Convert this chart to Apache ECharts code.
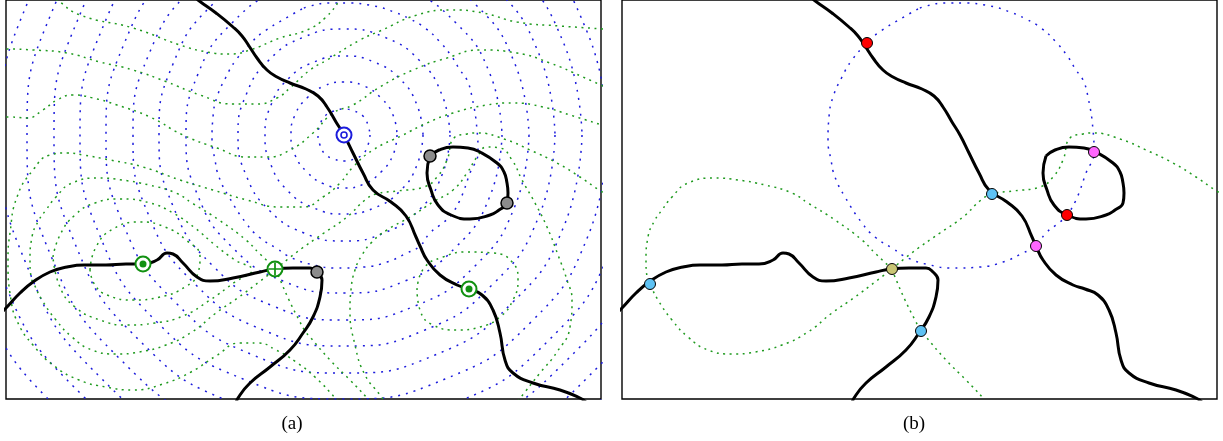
<!DOCTYPE html>
<html><head><meta charset="utf-8">
<script src="https://cdn.jsdelivr.net/npm/echarts@6/dist/echarts.min.js"></script>
<style>html,body{margin:0;padding:0;background:#fff}#c{width:1223px;height:441px}</style>
</head><body><div id="c"></div>
<script>
// ---- black curves (panel-local coords: x 0..595, y 0..399 from top) ----
const curveMain = [[188,-4],[192,0],[210,13],[227,27],[236,36],[243,46],[251,58],[261,70],[271,77],[284,83],[300,89],[312,96],[321,107],[330,122],[338,135],[347,153],[357,173],[367,190],[385,202],[400,216],[410,237],[414,246],[421,260],[434,275],[451,285],[463,289],[476,295],[487,310],[494,333],[499,360],[507,373],[527,383],[554,390],[574,398],[580,402]];
const curveLoop = [[424,156],[433,150],[447,147],[462,148],[474,152],[491,163],[498,172],[501,183],[502,193],[501,203],[493,210],[484,215],[464,219],[445,215],[432,205],[425,190],[421,173],[424,156]];
const curveLeft = [[-4,312],[0,308],[14,293],[27,282],[44,272],[61,267],[78,265],[100,265],[120,264],[137,264],[151,260],[161,253],[167,254],[177,263],[191,277],[204,281],[227,278],[254,272],[269,269],[287,268],[304,268],[311,272],[316,280],[314,297],[307,317],[297,333],[284,350],[264,367],[244,383],[232,398],[230,404]];

// ---- blue dotted level curves ----
const ring1 = [[364,135],[362,145],[357,154],[348,159],[338,161],[328,159],[319,154],[314,145],[312,135],[314,125],[319,116],[328,111],[338,109],[348,111],[357,116],[362,125],[364,135]];
const ring2 = [[391,135],[387,155],[375,172],[358,184],[338,188],[318,184],[301,172],[289,155],[285,135],[289,115],[301,98],[318,86],[338,82],[358,86],[375,98],[387,115],[391,135]];
const ring3 = [[417,135],[411,165],[394,191],[368,208],[338,214],[308,208],[282,191],[265,165],[259,135],[265,105],[282,79],[308,62],[338,56],[368,62],[394,79],[411,105],[417,135]];
const ring4 = [[444,135],[436,175],[413,210],[378,233],[338,241],[298,233],[263,210],[240,175],[232,135],[240,95],[263,60],[298,37],[338,29],[378,37],[413,60],[436,95],[444,135]];
const ring5 = [[296,9],[280,18],[256,33],[245,43],[230,60],[220,77],[211,97],[207,117],[206,140],[209,160],[213,177],[223,197],[240,223],[253,237],[270,248],[286,258],[308,265],[331,268],[358,267],[381,262],[401,253],[414,246],[424,233],[438,222],[445,215],[454,200],[464,173],[472,152],[471,130],[466,97],[461,80],[454,70],[446,57],[434,42],[419,28],[404,19],[388,12],[368,6],[341,3],[324,3],[304,6],[296,9]];
const ring6 = [[496,135],[484,196],[450,247],[399,281],[338,293],[277,281],[226,247],[192,196],[180,135],[192,74],[226,23],[277,-11],[338,-23],[399,-11],[450,23],[484,74],[496,135]];
const ring7 = [[523,135],[509,206],[469,266],[409,306],[338,320],[267,306],[207,266],[167,206],[153,135],[167,64],[207,4],[267,-36],[338,-50],[409,-36],[469,4],[509,64],[523,135]];
const ring8 = [[549,135],[533,216],[487,284],[419,330],[338,346],[257,330],[189,284],[143,216],[127,135],[143,54],[189,-14],[257,-60],[338,-76],[419,-60],[487,-14],[533,54],[549,135]];
const ring9 = [[576,135],[558,226],[506,303],[429,355],[338,373],[247,355],[170,303],[118,226],[100,135],[118,44],[170,-33],[247,-85],[338,-103],[429,-85],[506,-33],[558,44],[576,135]];
const ring10 = [[602,135],[582,236],[525,322],[439,379],[338,399],[237,379],[151,322],[94,236],[74,135],[94,34],[151,-52],[237,-109],[338,-129],[439,-109],[525,-52],[582,34],[602,135]];
const ring11 = [[628,135],[606,246],[543,340],[449,403],[338,425],[227,403],[133,340],[70,246],[48,135],[70,24],[133,-70],[227,-133],[338,-155],[449,-133],[543,-70],[606,24],[628,135]];
const ring12 = [[655,135],[631,256],[562,359],[459,428],[338,452],[217,428],[114,359],[45,256],[21,135],[45,14],[114,-89],[217,-158],[338,-182],[459,-158],[562,-89],[631,14],[655,135]];
const ring13 = [[681,135],[655,266],[581,378],[469,452],[338,478],[207,452],[95,378],[21,266],[-5,135],[21,4],[95,-108],[207,-182],[338,-208],[469,-182],[581,-108],[655,4],[681,135]];
const ring14 = [[708,135],[680,277],[599,396],[480,477],[338,505],[196,477],[77,396],[-4,277],[-32,135],[-4,-7],[77,-126],[196,-207],[338,-235],[480,-207],[599,-126],[680,-7],[708,135]];
const ring15 = [[734,135],[704,287],[618,415],[490,501],[338,531],[186,501],[58,415],[-28,287],[-58,135],[-28,-17],[58,-145],[186,-231],[338,-261],[490,-231],[618,-145],[704,-17],[734,135]];

// ---- green dotted level curves ----
const gl1 = [[39,-8],[51,0],[74,15],[127,28],[174,45],[201,52],[224,54],[244,50],[274,38],[301,30],[319,18],[334,0],[339,-8]];
const gl2 = [[-6,49],[2,49],[27,50],[61,53],[94,62],[127,70],[161,82],[194,95],[227,104],[251,104],[271,98],[284,88],[304,70],[321,60],[354,40],[374,31],[411,15],[444,10],[477,13],[511,22],[554,26],[599,29]];
const gl3 = [[-6,117],[4,117],[21,118],[37,110],[51,100],[67,95],[87,98],[111,105],[144,117],[177,135],[211,148],[241,157],[261,157],[284,150],[307,133],[327,113],[347,105],[374,87],[407,70],[441,58],[474,50],[511,53],[544,63],[577,77],[599,87]];
const gl4 = [[599,126],[564,115],[537,107],[507,103],[481,105],[447,113],[421,123],[397,135],[367,150],[347,167],[334,183],[317,197],[297,207],[274,207],[241,200],[207,190],[174,180],[137,167],[104,160],[77,155],[61,153],[44,155],[27,170],[11,197],[4,233],[2,260],[5,300],[13,325],[27,345],[47,365],[73,380],[100,387],[127,390],[157,384],[185,372],[210,356],[234,343],[252,343],[270,350],[290,362],[310,378],[330,399],[339,410]];
const loopA = [[84,270],[90,247],[107,229],[134,222],[159,227],[180,240],[194,257],[192,273],[179,287],[154,297],[127,300],[101,295],[89,285],[84,270]];
const loopB = [[47,257],[54,235],[69,215],[89,203],[114,199],[144,203],[167,213],[189,228],[209,245],[229,260],[246,270],[229,282],[204,300],[177,316],[149,323],[121,325],[94,320],[69,307],[54,287],[47,257]];
const loopC = [[270,269],[254,254],[240,240],[213,220],[186,203],[170,193],[143,185],[116,180],[93,178],[66,183],[50,197],[40,210],[33,220],[26,237],[24,260],[25,277],[28,284],[36,300],[50,320],[66,337],[86,350],[110,354],[133,352],[160,345],[186,332],[210,313],[233,297],[253,282],[270,269]];
const lineE = [[270,269],[291,252],[318,233],[341,217],[359,200],[370,194],[391,191],[418,187],[431,177],[441,160],[448,138],[461,134],[471,133],[498,139],[524,150],[551,163],[574,177],[593,190],[600,194]];
const lineS = [[270,269],[273,277],[283,300],[293,320],[299,331],[304,337],[324,360],[344,380],[361,398],[366,405]];
const loopD1 = [[411,290],[418,268],[437,257],[461,252],[487,253],[507,263],[512,280],[507,300],[494,317],[474,327],[451,330],[427,325],[414,310],[411,290]];
const loopD2 = [[384,410],[374,395],[359,375],[349,345],[344,310],[345,290],[349,270],[356,255],[366,242],[381,230],[404,217],[427,202],[447,190],[461,173],[471,157],[481,147],[494,148],[506,160],[516,180],[529,203],[541,227],[552,255],[561,280],[566,300],[564,327],[551,352],[534,373],[519,392],[509,405]];

// ---- markers ----
const blueZero = [[338,135]];
const greenDots = [[137,264],[463,289]];
const greenSaddle = [[269,269]];
const grayPts = [[424,156],[501,203],[311,272]];
const redPts = [[245,43],[445,215]];
const magentaPts = [[472,152],[414,246]];
const skyPts = [[370,194],[28,284],[299,331]];
const olivePts = [[270,269]];
const panelLabels = ['(a)', '(b)'];

const BLUE = '#1c1cdc', GREEN = '#1f9a1f';
function line(data, gi, color, type, width, z) {
  return {type:'line', xAxisIndex:gi, yAxisIndex:gi, data:data, smooth:true, symbol:'none',
    showSymbol:false, silent:true, clip:true, z:z,
    lineStyle:{color:color, width:width, type:type, cap:'butt'}};
}
function dots(data, gi, size, fill, border, bw, z, symbol) {
  return {type:'scatter', xAxisIndex:gi, yAxisIndex:gi, data:data, symbol:symbol||'circle',
    symbolSize:size, silent:true, z:z,
    itemStyle:{color:fill, borderColor:border, borderWidth:bw, opacity:1}};
}
const blueDash = [2,6], greenDash = [2,4.5];
const series = [];
[ring1,ring2,ring3,ring4,ring5,ring6,ring7,ring8,ring9,ring10,ring11,ring12,ring13,ring14,ring15]
  .forEach(r => series.push(line(r, 0, BLUE, blueDash, 1.5, 1)));
[gl1,gl2,gl3,gl4,loopA,loopB,loopC,lineE,lineS,loopD1,loopD2]
  .forEach(g => series.push(line(g, 0, GREEN, greenDash, 1.5, 2)));
series.push(line(ring5, 1, BLUE, blueDash, 1.5, 1));
[loopC, lineE, lineS].forEach(g => series.push(line(g, 1, GREEN, greenDash, 1.5, 2)));
[0,1].forEach(gi => {
  [curveMain, curveLoop, curveLeft].forEach(c => series.push(line(c, gi, '#000', 'solid', 3, 3)));
});
// panel (a) markers
series.push(dots(grayPts, 0, 12, '#8c8c8c', '#000', 1.5, 5));
series.push(dots(blueZero, 0, 15, '#fff', BLUE, 2, 5));
series.push(dots(blueZero, 0, 6, '#fff', BLUE, 1.6, 6));
series.push(dots(greenDots, 0, 15, '#fff', '#119111', 2, 5));
series.push(dots(greenDots, 0, 7, '#119111', '#119111', 0, 6));
series.push(dots(greenSaddle, 0, 15, '#fff', '#119111', 2, 5));
series.push(dots(greenSaddle, 0, 13, '#119111', '#119111', 0, 6, 'path://M0,5.2H12V6.8H0Z M5.2,0H6.8V12H5.2Z'));
// panel (b) markers
series.push(dots(redPts, 1, 11, '#ff0000', '#000', 1, 5));
series.push(dots(magentaPts, 1, 11, '#ff66ff', '#000', 1, 5));
series.push(dots(skyPts, 1, 11, '#5ec2f4', '#000', 1, 5));
series.push(dots(olivePts, 1, 11, '#c9c574', '#000', 1, 5));

const gridBase = {top:0, width:595, height:399, show:true, borderColor:'#000', borderWidth:1.4, backgroundColor:'#fff', containLabel:false};
const labelStyle = {align:'center', verticalAlign:'middle', font:'19px "Liberation Serif"', fill:'#000'};
const option = {
  animation:false,
  backgroundColor:'#fff',
  grid:[Object.assign({left:6}, gridBase), Object.assign({left:622}, gridBase)],
  xAxis:[0,1].map(i => ({gridIndex:i, type:'value', min:0, max:595, show:false})),
  yAxis:[0,1].map(i => ({gridIndex:i, type:'value', min:0, max:399, inverse:true, show:false})),
  series:series,
  graphic:[
    {type:'text', x:292, y:424, style:Object.assign({text:panelLabels[0]}, labelStyle)},
    {type:'text', x:914, y:424, style:Object.assign({text:panelLabels[1]}, labelStyle)}
  ]
};
const chart = echarts.init(document.getElementById('c'), null, {renderer:'canvas'});
chart.setOption(option);
</script></body></html>
